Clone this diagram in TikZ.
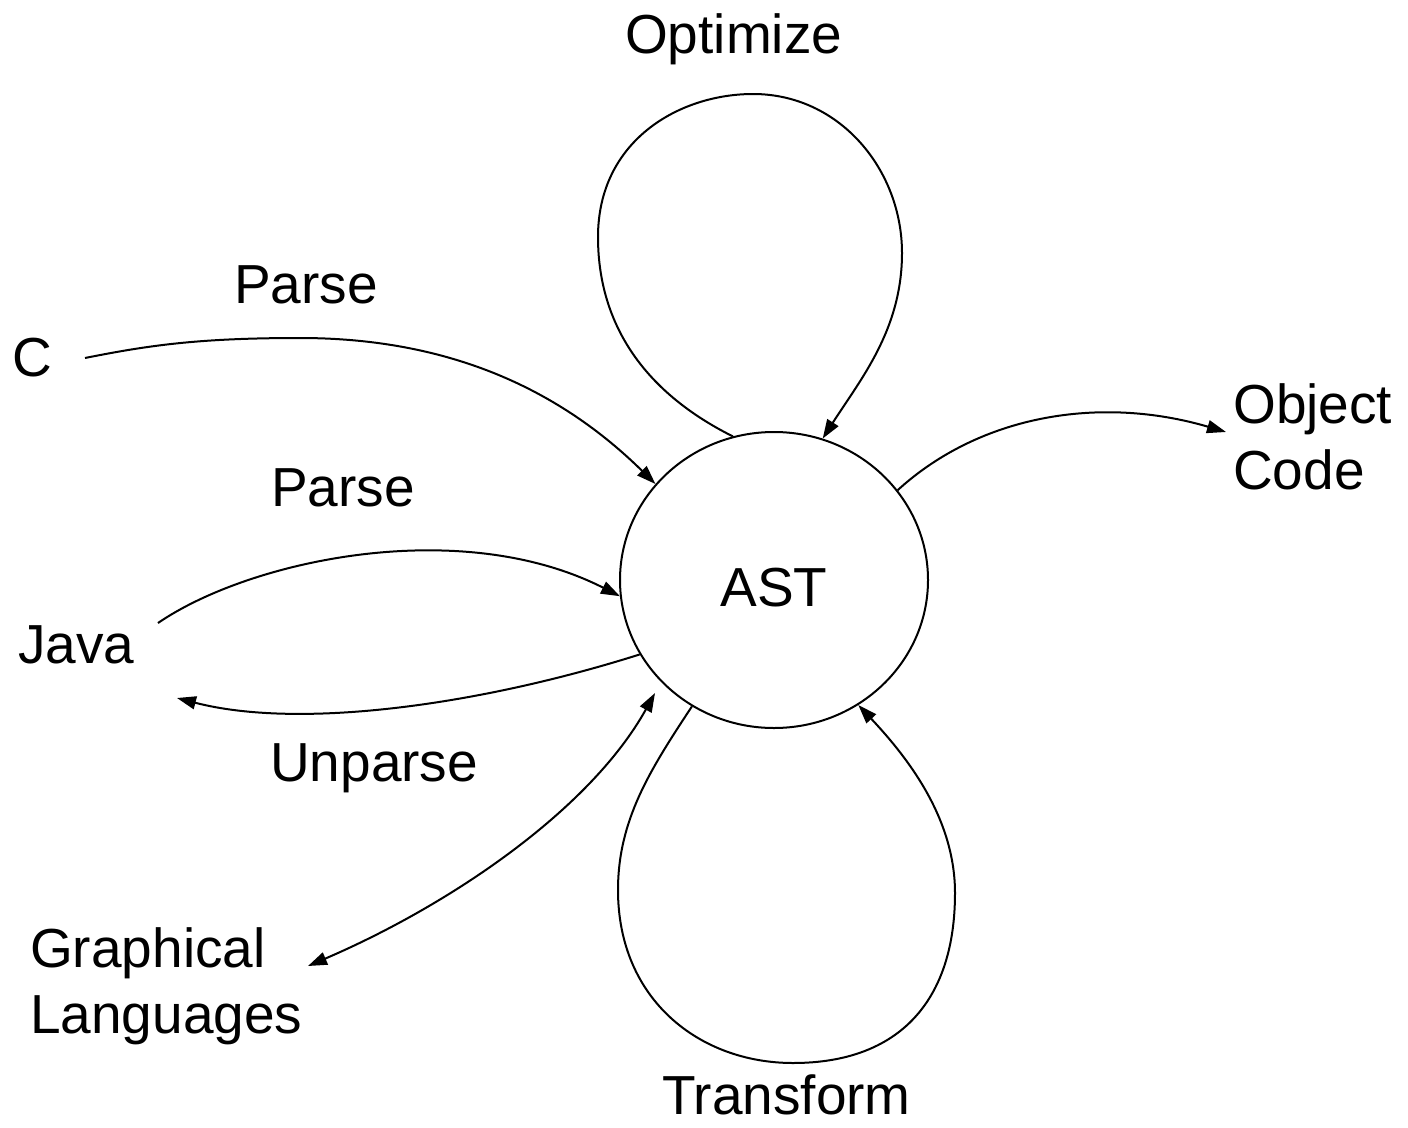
\documentclass[tikz,border=0pt]{standalone}
\usepackage{fontspec}
\setmainfont{Liberation Sans}
\usetikzlibrary{arrows.meta,shapes.geometric}
\tikzset{
  lbl/.style={inner sep=0pt, anchor=base west, font=\fontsize{55}{66}\selectfont, align=left},
  conn/.style={line width=2pt, -{Triangle[length=19pt,width=13pt]}},
  biconn/.style={line width=2pt, {Triangle[length=19pt,width=13pt]}-{Triangle[length=19pt,width=13pt]}}
}
\begin{document}
\begin{tikzpicture}[x=1pt,y=-1pt]
\useasboundingbox (0,0) rectangle (1408,1127);
\node[ellipse, draw, line width=2pt, minimum width=308pt, minimum height=296pt, inner sep=0pt,
      text height=52pt, text depth=0pt,
      font=\fontsize{55}{66}\selectfont] (ast) at (774,580) {AST};

\node[lbl] (opt) at (625,53) {Optimize};
\node[lbl] (parse1) at (234,303) {Parse};
\node[lbl] (parse2) at (271,506) {Parse};
\node[lbl] (c) at (12,376) {C};
\node[lbl] (java) at (18,663) {Java};
\node[lbl] (unparse) at (270,781) {Unparse};
\node[lbl] (graph) at (30,1033) {Graphical\\Languages};
\node[lbl] (obj) at (1233,489) {Object\\Code};
\node[lbl] (trans) at (662,1114) {Transform};

\coordinate (cstart) at (85,358);
\coordinate (jstart) at (158,623);
\coordinate (jend) at (177,698);
\coordinate (gend) at (308,966);
\coordinate (gstart) at (655,693);
\coordinate (objend) at (1226,432);

% C -> AST
\draw[conn] (cstart) .. controls (150,345) and (200,338) .. (300,338)
   .. controls (450,338) and (560,390) .. (ast.141.5);
% Java -> AST
\draw[conn] (jstart) .. controls (250,560) and (460,515) .. (ast.186);
% AST -> Java (Unparse)
\draw[conn] (ast.209) .. controls (480,705) and (300,730) .. (jend);
% AST <-> Graphical
\draw[biconn] (gend) .. controls (450,905) and (590,810) .. (gstart);
% AST -> Object Code
\draw[conn] (ast.36.6) .. controls (980,415) and (1100,395) .. (objend);
% Optimize loop
\draw[conn] (ast.106.6) .. controls (640,390) and (598,320) .. (598,237)
   .. controls (598,140) and (680,94) .. (753,94)
   .. controls (840,94) and (902,170) .. (902,253)
   .. controls (902,330) and (860,380) .. (ast.71.9);
% Transform loop
\draw[conn] (ast.237.8) .. controls (650,770) and (618,820) .. (618,890)
   .. controls (618,1000) and (700,1063) .. (793,1063)
   .. controls (900,1063) and (955,1000) .. (955,893)
   .. controls (955,820) and (910,760) .. (ast.304.8);
\end{tikzpicture}
\end{document}
